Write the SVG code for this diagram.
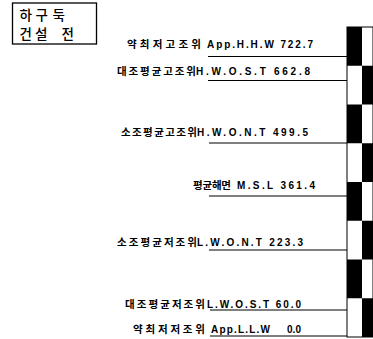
<svg xmlns="http://www.w3.org/2000/svg" width="373" height="339" viewBox="0 0 373 339">
<style>
.lat{font-family:"Liberation Sans",sans-serif;font-size:10px;font-weight:bold;fill:#000}
.kor{font-family:"Noto Sans CJK KR",sans-serif;font-size:10.5px;font-weight:bold;fill:#000}
.ttl{font-family:"Noto Sans CJK KR",sans-serif;font-size:13.5px;font-weight:500;fill:#000}
.lvl{stroke:#000;stroke-width:1.2;fill:none}
.blk{fill:#000}
</style>
<rect width="373" height="339" fill="#fff"/>
<g id="title">
<rect x="12.5" y="3" width="84" height="41" fill="none" stroke="#000" stroke-width="1.3"/>
<text class="ttl" x="19.5 35.5 52.5" y="19.5">하구둑</text>
<text class="ttl" x="19.5 35 50 61.5" y="38.5">건설 전</text>
</g>
<g id="staff">
<rect x="347" y="27" width="26" height="310" fill="#fff" stroke="#000" stroke-width="1"/>
<rect class="blk" x="347" y="27" width="15" height="38.75"/>
<rect class="blk" x="362" y="65.75" width="11" height="38.75"/>
<rect class="blk" x="347" y="104.5" width="15" height="38.75"/>
<rect class="blk" x="362" y="143.25" width="11" height="38.75"/>
<rect class="blk" x="347" y="182" width="15" height="38.75"/>
<rect class="blk" x="362" y="220.75" width="11" height="38.75"/>
<rect class="blk" x="347" y="259.5" width="15" height="38.75"/>
<rect class="blk" x="362" y="298.25" width="11" height="38.75"/>
</g>
<g id="connectors">
<line class="lvl" x1="208" y1="56.5" x2="347" y2="56.5"/>
<line class="lvl" x1="208" y1="80.5" x2="347" y2="80.5"/>
<line class="lvl" x1="209" y1="143" x2="347" y2="143"/>
<line class="lvl" x1="209" y1="196" x2="347" y2="196"/>
<line class="lvl" x1="209" y1="250" x2="347" y2="250"/>
<line class="lvl" x1="210" y1="310" x2="347" y2="310"/>
<line class="lvl" x1="210" y1="336" x2="347" y2="336"/>
</g>
<g id="hhw">
<text class="kor" x="127" y="47.5" textLength="74" lengthAdjust="spacing">약최저고조위</text>
<text class="lat" x="207" y="47.5" textLength="106" lengthAdjust="spacing">App.H.H.W 722.7</text>
</g>
<g id="host">
<text class="kor" x="117" y="74.5" textLength="79" lengthAdjust="spacing">대조평균고조위</text>
<text class="lat" x="196" y="74.5" textLength="114" lengthAdjust="spacing">H.W.O.S.T 662.8</text>
</g>
<g id="hont">
<text class="kor" x="121" y="136" textLength="76" lengthAdjust="spacing">소조평균고조위</text>
<text class="lat" x="197" y="136" textLength="111" lengthAdjust="spacing">H.W.O.N.T 499.5</text>
</g>
<g id="msl">
<text class="kor" x="193" y="189" textLength="38" lengthAdjust="spacing">평균해면</text>
<text class="lat" x="237" y="189" textLength="78" lengthAdjust="spacing">M.S.L 361.4</text>
</g>
<g id="lont">
<text class="kor" x="117" y="245.5" textLength="80" lengthAdjust="spacing">소조평균저조위</text>
<text class="lat" x="197" y="245.5" textLength="106" lengthAdjust="spacing">L.W.O.N.T 223.3</text>
</g>
<g id="lost">
<text class="kor" x="125" y="307.5" textLength="80" lengthAdjust="spacing">대조평균저조위</text>
<text class="lat" x="207" y="307.5" textLength="94" lengthAdjust="spacing">L.W.O.S.T 60.0</text>
</g>
<g id="llw">
<text class="kor" x="133" y="332.5" textLength="72" lengthAdjust="spacing">약최저저조위</text>
<text class="lat" x="211" y="332.5" textLength="59" lengthAdjust="spacing">App.L.L.W</text>
<text class="lat" x="287" y="332.5" textLength="14" lengthAdjust="spacing">0.0</text>
</g>
</svg>
